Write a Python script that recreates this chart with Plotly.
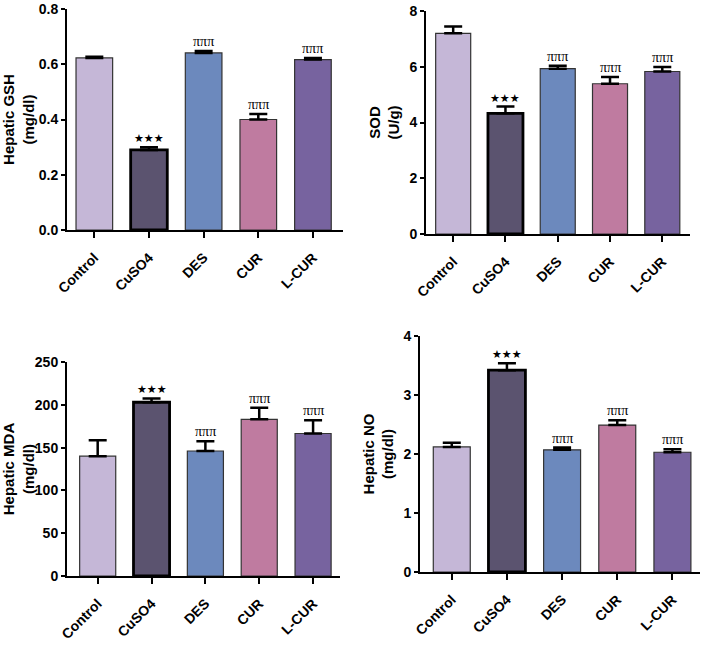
import plotly.graph_objects as go

categories = ["Control", "CuSO4", "DES", "CUR", "L-CUR"]
colors = ["#c5b7d7", "#5b536f", "#6c89bd", "#bf7ba0", "#77639f"]

gsh_mean = [0.623, 0.290, 0.641, 0.400, 0.617]
gsh_err = [0.004, 0.010, 0.007, 0.020, 0.006]
gsh_sig = ["", "★★★", "πππ", "πππ", "πππ"]

sod_mean = [7.20, 4.33, 5.93, 5.39, 5.83]
sod_err = [0.24, 0.24, 0.11, 0.24, 0.16]
sod_sig = ["", "★★★", "πππ", "πππ", "πππ"]

mda_mean = [140.0, 203.0, 146.0, 183.0, 166.5]
mda_err = [18.5, 4.5, 11.5, 13.5, 15.5]
mda_sig = ["", "★★★", "πππ", "πππ", "πππ"]

no_mean = [2.12, 3.42, 2.07, 2.49, 2.03]
no_err = [0.07, 0.12, 0.04, 0.08, 0.05]
no_sig = ["", "★★★", "πππ", "πππ", "πππ"]

yticks_gsh = [0.0, 0.2, 0.4, 0.6, 0.8]
yticks_sod = [0, 2, 4, 6, 8]
yticks_mda = [0, 50, 100, 150, 200, 250]
yticks_no = [0, 1, 2, 3, 4]

panels = [
    dict(mean=gsh_mean, err=gsh_err, sig=gsh_sig, ticks=yticks_gsh, fmt=".1f",
         title="Hepatic GSH<br>(mg/dl)", xd=[67/702, 343/702], yd=[1-230/645, 1-9/645],
         xr=[-0.5, 4.55], yr=[0, 0.8]),
    dict(mean=sod_mean, err=sod_err, sig=sod_sig, ticks=yticks_sod, fmt="d",
         title="SOD<br>(U/g)", xd=[426/702, 690/702], yd=[1-234/645, 1-11/645],
         xr=[-0.52, 4.53], yr=[0, 8]),
    dict(mean=mda_mean, err=mda_err, sig=mda_sig, ticks=yticks_mda, fmt="d",
         title="Hepatic MDA<br>(mg/dl)", xd=[67/702, 340/702], yd=[1-576/645, 1-362/645],
         xr=[-0.57, 4.5], yr=[0, 250]),
    dict(mean=no_mean, err=no_err, sig=no_sig, ticks=yticks_no, fmt="d",
         title="Hepatic NO<br>(mg/dl)", xd=[420/702, 700/702], yd=[1-572/645, 1-336/645],
         xr=[-0.576, 4.5], yr=[0, 4]),
]

font_main = "Liberation Sans, Arial, sans-serif"

fig = go.Figure()
layout = dict(width=702, height=645, margin=dict(l=0, r=0, t=0, b=0),
              paper_bgcolor="white", plot_bgcolor="white", showlegend=False)
annotations = []
for i, p in enumerate(panels):
    n = "" if i == 0 else str(i + 1)
    xa, ya = "x" + n, "y" + n
    line_w = [1.2 if c != "CuSO4" else 2.8 for c in categories]
    line_c = ["#333333" if c != "CuSO4" else "#000000" for c in categories]
    fig.add_trace(go.Bar(
        x=categories, y=p["mean"], xaxis=xa, yaxis=ya,
        marker=dict(color=colors, line=dict(color=line_c, width=line_w)),
        width=0.67,
        error_y=dict(type="data", array=p["err"], arrayminus=[0]*5, symmetric=False,
                     color="black", thickness=2.5, width=9),
    ))
    for c, m, e, s in zip(categories, p["mean"], p["err"], p["sig"]):
        if s:
            star = s.startswith("★")
            annotations.append(dict(
                x=c, y=m + e, xref=xa, yref=ya, text=s, showarrow=False,
                yanchor="bottom", yshift=0,
                font=dict(size=11 if star else 14, color="black",
                          family="DejaVu Sans" if star else "Liberation Serif, serif"),
            ))
    tickvals = p["ticks"]
    ticktext = [format(v, p["fmt"]) if p["fmt"] != "d" else str(int(v)) for v in tickvals]
    layout["xaxis" + n] = dict(
        domain=p["xd"], anchor=ya, range=p["xr"], type="category", automargin=False,
        showline=True, linecolor="black", linewidth=2, ticks="outside",
        ticklen=6, tickwidth=2, tickcolor="black", tickangle=-45, ticklabelstandoff=6,
        tickfont=dict(family=font_main, size=14, color="black", weight="bold"),
        showgrid=False, zeroline=False, fixedrange=True,
    )
    layout["yaxis" + n] = dict(
        domain=p["yd"], anchor=xa, range=p["yr"], automargin=False,
        tickvals=tickvals, ticktext=ticktext,
        showline=True, linecolor="black", linewidth=2, ticks="outside",
        ticklen=4, tickwidth=2, tickcolor="black",
        tickfont=dict(family=font_main, size=14, color="black", weight="bold"),
        title=dict(text=p["title"], standoff=6,
                   font=dict(family=font_main, size=15, color="black", weight="bold")),
        showgrid=False, zeroline=False, fixedrange=True,
    )
layout["annotations"] = annotations
fig.update_layout(**layout)
fig.write_html("out.html", config={"displayModeBar": False},
               post_script="document.body.style.margin='0';document.body.style.overflow='hidden';")
